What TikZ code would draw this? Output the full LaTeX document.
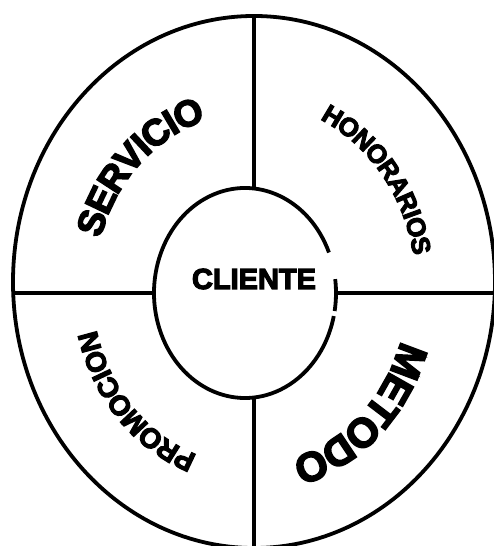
\documentclass[tikz,border=0pt]{standalone}
\usepackage{fontspec}
\usetikzlibrary{shapes.geometric,decorations.text}
\newfontfamily\heavy{Liberation Sans}[BoldFeatures={FakeBold=4}]
\tikzset{
  ring/.style={draw=black, line width=3.8pt},
  divider/.style={draw=black, line width=4.8pt},
  shape box/.style={ellipse, inner sep=0pt, outer sep=0pt},
}
\begin{document}
\begin{tikzpicture}[x=1pt,y=1pt]
\useasboundingbox (0,0) rectangle (494,546);
\fill[white] (0,0) rectangle (494,546);
\clip (0,0) rectangle (494,546);
% outer ring
\node[shape box, ring, minimum width=482pt, minimum height=532pt] (outer) at (254,264) {};
% inner ellipse (drawn in pieces, with its small gaps)
\node[shape box, minimum width=182pt, minimum height=210pt] (inner) at (245,253) {};
\draw[ring] ([shift={(22.7:91 and 105)}]inner.center) arc[start angle=22.7, end angle=347.3, x radius=91, y radius=105];
\draw[ring] ([shift={(7.6:91 and 105)}]inner.center) arc[start angle=7.6, end angle=-9.9, x radius=91, y radius=105];
% dividers
\draw[divider] (outer.north) -- (outer.north |- inner.north);
\draw[divider] (outer.south |- inner.south) -- (outer.south);
\draw[divider] (inner.west) -- (inner.west -| outer.west);
\draw[divider] (inner.east) -- (inner.east -| outer.east);
% centre label
\node[font=\heavy\bfseries\fontsize{29}{29}\selectfont, inner sep=0pt] (cliente) at (254,267) {CLIENTE};
% curved labels
\coordinate (c) at (250,258);
\path[decorate, decoration={text along path, text align=center, raise=-13pt,
  text={|\heavy\bfseries\fontsize{37}{37}\selectfont|SERVICIO}}]
  ([shift={(184:169 and 188)}]c) arc[start angle=184, end angle=84, x radius=169, y radius=188];
\path[decorate, decoration={text along path, text align=center, raise=-9pt,
  text={|\heavy\bfseries\fontsize{26}{26}\selectfont|HONORARIOS}}]
  ([shift={(88:175 and 195)}]c) arc[start angle=88, end angle=-11, x radius=175, y radius=195];
\path[decorate, decoration={text along path, text align=center, raise=-14pt,
  text={|\heavy\bfseries\fontsize{41}{41}\selectfont|METODO}}]
  ([shift={(3:172 and 191)}]c) arc[start angle=3, end angle=-97, x radius=172, y radius=191];
\path[decorate, decoration={text along path, text align=center, raise=-10pt,
  text={|\heavy\bfseries\fontsize{28}{28}\selectfont|PROMOCION}}]
  ([shift={(273:168 and 187)}]c) arc[start angle=273, end angle=173, x radius=168, y radius=187];
\end{tikzpicture}
\end{document}
